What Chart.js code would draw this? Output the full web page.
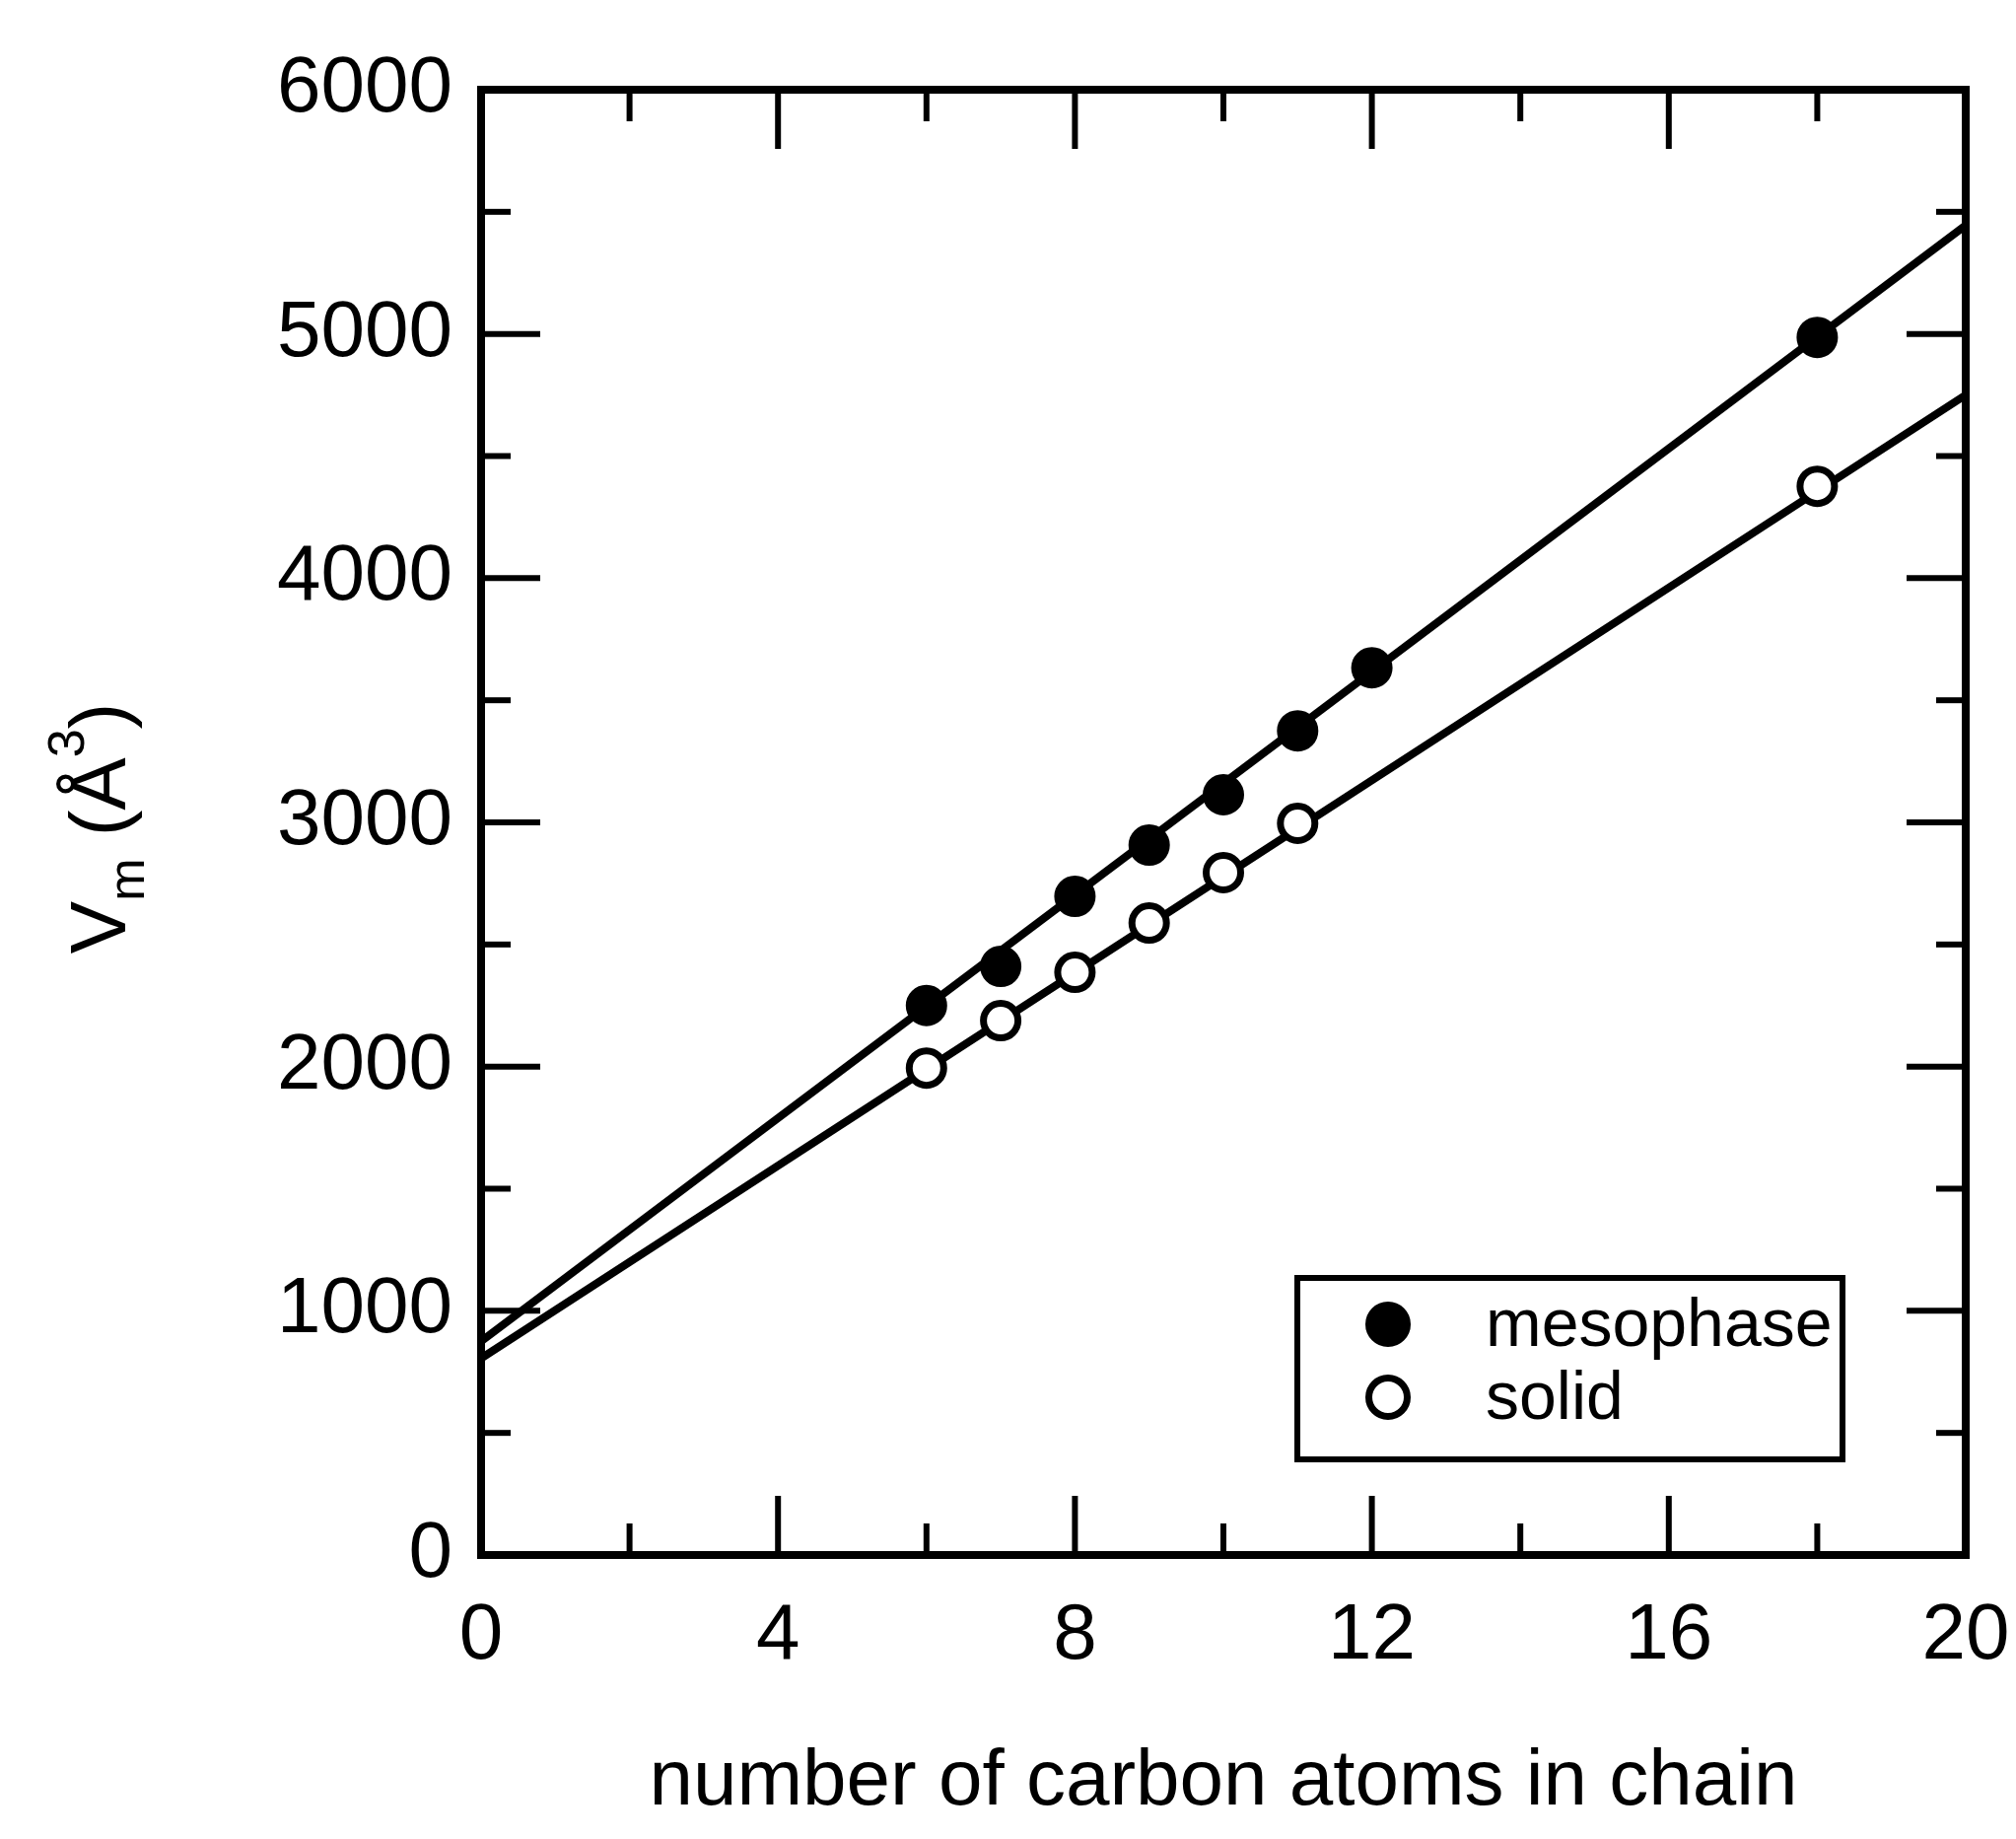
<!DOCTYPE html>
<html>
<head>
<meta charset="utf-8">
<title>Molecular volume vs chain length</title>
<script src="https://cdn.jsdelivr.net/npm/chart.js@4.4.1/dist/chart.umd.min.js"></script>
<style>
  html, body { margin: 0; padding: 0; background: #fff; }
  canvas { display: block; }
</style>
</head>
<body>
<canvas id="volChart" width="2045" height="1865"></canvas>
<script>
// number of carbon atoms in the chain and molecular volume (A^3)
const carbonMeso = [6, 7, 8, 9, 10, 11, 12, 18];
const volMeso = [2250, 2410, 2697, 2907, 3113, 3375, 3633, 4986];
const carbonSolid = [6, 7, 8, 9, 10, 11, 18];
const volSolid = [1994, 2188, 2386, 2588, 2794, 2996, 4376];

// straight-line fits, end points at n = 0 and n = 20
const fitX = [0, 20];
const fitMeso = [875, 5445];
const fitSolid = [805, 4750];

const xTicks = [0, 4, 8, 12, 16, 20];
const xMinor = [2, 6, 10, 14, 18];
const yTicks = [0, 1000, 2000, 3000, 4000, 5000, 6000];
const yMinor = [500, 1500, 2500, 3500, 4500, 5500];

const legendLabels = ['mesophase', 'solid'];

const FONT = '"Liberation Sans", Arial, Helvetica, sans-serif';

const pts = (xs, ys) => xs.map((x, i) => ({ x: x, y: ys[i] }));

// ticks on all four sides point into the plot, plus the frame
const frameTicks = {
  id: 'frameTicks',
  afterDatasetsDraw(chart) {
    const { ctx, chartArea: a, scales: { x, y } } = chart;
    const seg = (x1, y1, x2, y2) => {
      ctx.beginPath(); ctx.moveTo(x1, y1); ctx.lineTo(x2, y2); ctx.stroke();
    };
    ctx.save();
    ctx.strokeStyle = '#000';
    ctx.lineWidth = 6;
    const xt = (vals, len) => vals.forEach(v => {
      const px = x.getPixelForValue(v);
      seg(px, a.bottom, px, a.bottom - len);
      seg(px, a.top, px, a.top + len);
    });
    const yt = (vals, len) => vals.forEach(v => {
      const py = y.getPixelForValue(v);
      seg(a.left, py, a.left + len, py);
      seg(a.right, py, a.right - len, py);
    });
    xt(xTicks, 60); xt(xMinor, 32);
    yt(yTicks, 60); yt(yMinor, 30);
    ctx.lineWidth = 8;
    ctx.strokeRect(a.left, a.top, a.right - a.left, a.bottom - a.top);
    ctx.restore();
  }
};

// "V_m (Å^3)" rotated along the left side
const yTitle = {
  id: 'yTitle',
  afterDraw(chart) {
    const { ctx, chartArea: a } = chart;
    const big = '80px ' + FONT;
    const small = '52px ' + FONT;
    const parts = [
      { t: 'V', f: big, dy: 0 },
      { t: 'm', f: small, dy: 19 },
      { t: ' (Å', f: big, dy: 0 },
      { t: '3', f: small, dy: -42 },
      { t: ')', f: big, dy: 0 }
    ];
    ctx.save();
    ctx.translate(127, (a.top + a.bottom) / 2);
    ctx.rotate(-Math.PI / 2);
    let total = 0;
    parts.forEach(p => { ctx.font = p.f; p.w = ctx.measureText(p.t).width; total += p.w; });
    let cx = -total / 2 - 6;
    ctx.fillStyle = '#000';
    ctx.textBaseline = 'alphabetic';
    parts.forEach(p => { ctx.font = p.f; ctx.fillText(p.t, cx, p.dy); cx += p.w; });
    ctx.restore();
  }
};

// boxed legend in the lower right of the plot
const boxLegend = {
  id: 'boxLegend',
  afterDraw(chart) {
    const { ctx, chartArea: a } = chart;
    const left = a.right - 678, right = a.right - 125;
    const top = a.bottom - 281, bottom = a.bottom - 97;
    ctx.save();
    ctx.strokeStyle = '#000';
    ctx.lineWidth = 6;
    ctx.strokeRect(left, top, right - left, bottom - top);
    ctx.font = '68px ' + FONT;
    ctx.textBaseline = 'alphabetic';
    legendLabels.forEach((label, i) => {
      const ds = chart.data.datasets[i];
      const cy = top + 47 + i * 74;
      ctx.beginPath();
      ctx.arc(left + 92, cy, ds.pointRadius + 2, 0, Math.PI * 2);
      ctx.fillStyle = ds.backgroundColor;
      ctx.fill();
      ctx.lineWidth = ds.borderWidth;
      ctx.strokeStyle = ds.borderColor;
      ctx.stroke();
      ctx.fillStyle = '#000';
      ctx.fillText(label, left + 191, cy + 22);
    });
    ctx.restore();
  }
};

new Chart('volChart', {
  type: 'scatter',
  data: {
    datasets: [
      {
        label: legendLabels[0],
        data: pts(carbonMeso, volMeso),
        pointRadius: 19,
        backgroundColor: '#000',
        borderColor: '#000',
        borderWidth: 4
      },
      {
        label: legendLabels[1],
        data: pts(carbonSolid, volSolid),
        pointRadius: 17.5,
        backgroundColor: '#fff',
        borderColor: '#000',
        borderWidth: 7
      },
      {
        label: 'mesophase fit',
        data: pts(fitX, fitMeso),
        showLine: true,
        pointRadius: 0,
        borderColor: '#000',
        borderWidth: 8
      },
      {
        label: 'solid fit',
        data: pts(fitX, fitSolid),
        showLine: true,
        pointRadius: 0,
        borderColor: '#000',
        borderWidth: 8
      }
    ]
  },
  options: {
    responsive: false,
    animation: false,
    events: [],
    layout: { padding: { top: 91, right: 51, left: 0, bottom: 0 } },
    plugins: {
      legend: { display: false },
      tooltip: { enabled: false }
    },
    scales: {
      x: {
        type: 'linear',
        min: 0,
        max: 20,
        grid: { display: false },
        border: { display: false },
        afterBuildTicks: s => { s.ticks = xTicks.map(v => ({ value: v })); },
        afterFit: s => { s.height = 288; s.paddingLeft = 0; s.paddingRight = 0; },
        ticks: {
          color: '#000',
          padding: 27,
          maxRotation: 0,
          font: { family: FONT, size: 80, lineHeight: 1.2 }
        },
        title: {
          display: true,
          text: 'number of carbon atoms in chain',
          color: '#000',
          padding: { top: 0, bottom: 9 },
          font: { family: FONT, size: 80, lineHeight: 1.2 }
        }
      },
      y: {
        type: 'linear',
        min: 0,
        max: 6000,
        grid: { display: false },
        border: { display: false },
        afterBuildTicks: s => { s.ticks = yTicks.map(v => ({ value: v })); },
        afterFit: s => { s.width = 488; s.paddingTop = 0; s.paddingBottom = 0; },
        ticks: {
          color: '#000',
          padding: 21,
          callback: v => String(v),
          font: { family: FONT, size: 80, lineHeight: 1.2 }
        }
      }
    }
  },
  plugins: [frameTicks, yTitle, boxLegend]
});
</script>
</body>
</html>
